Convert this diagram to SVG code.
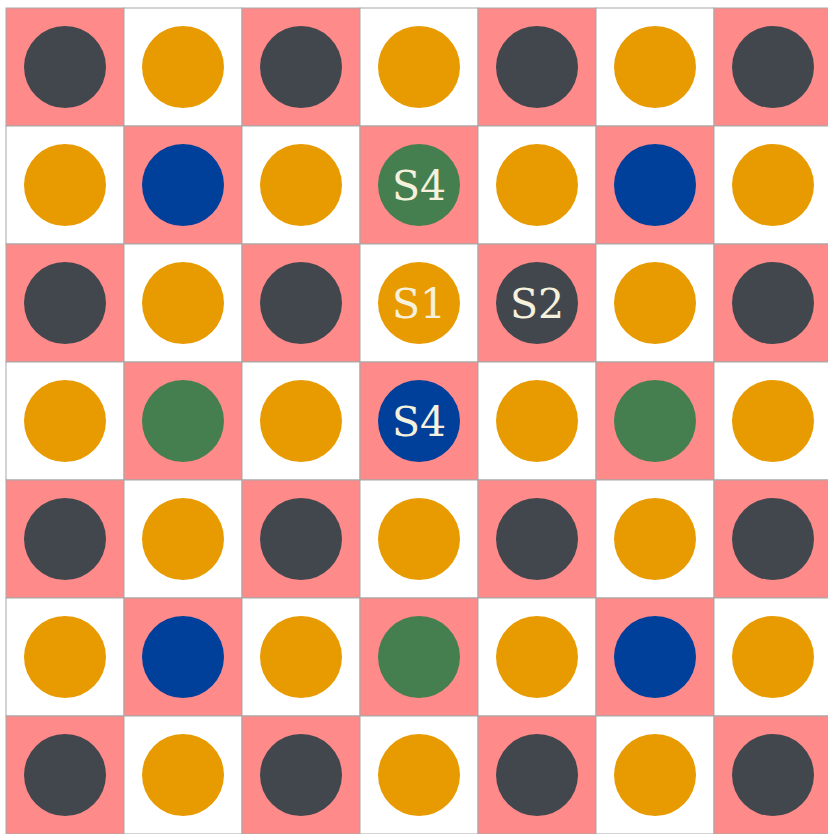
<svg xmlns="http://www.w3.org/2000/svg" width="828" height="834" viewBox="0 0 828 834">
<style>
.p{fill:#FF8A8A;stroke:#A8A8A8;stroke-width:1}
.w{fill:#FFFFFF;stroke:#A8A8A8;stroke-width:1}
.d{fill:#42474E}
.o{fill:#E89B00}
.b{fill:#003F9A}
.g{fill:#457F4F}
.t{font-family:"DejaVu Serif","Liberation Serif",serif;font-size:41px;fill:#F6F1DC;text-anchor:middle}
</style>
<rect width="828" height="834" fill="#FFFFFF"/>
<g id="grid">
<g id="r0">
<rect class="p" x="6" y="8" width="118" height="118"/><rect class="w" x="124" y="8" width="118" height="118"/><rect class="p" x="242" y="8" width="118" height="118"/><rect class="w" x="360" y="8" width="118" height="118"/><rect class="p" x="478" y="8" width="118" height="118"/><rect class="w" x="596" y="8" width="118" height="118"/><rect class="p" x="714" y="8" width="118" height="118"/>
</g>
<g id="r1">
<rect class="w" x="6" y="126" width="118" height="118"/><rect class="p" x="124" y="126" width="118" height="118"/><rect class="w" x="242" y="126" width="118" height="118"/><rect class="p" x="360" y="126" width="118" height="118"/><rect class="w" x="478" y="126" width="118" height="118"/><rect class="p" x="596" y="126" width="118" height="118"/><rect class="w" x="714" y="126" width="118" height="118"/>
</g>
<g id="r2">
<rect class="p" x="6" y="244" width="118" height="118"/><rect class="w" x="124" y="244" width="118" height="118"/><rect class="p" x="242" y="244" width="118" height="118"/><rect class="w" x="360" y="244" width="118" height="118"/><rect class="p" x="478" y="244" width="118" height="118"/><rect class="w" x="596" y="244" width="118" height="118"/><rect class="p" x="714" y="244" width="118" height="118"/>
</g>
<g id="r3">
<rect class="w" x="6" y="362" width="118" height="118"/><rect class="p" x="124" y="362" width="118" height="118"/><rect class="w" x="242" y="362" width="118" height="118"/><rect class="p" x="360" y="362" width="118" height="118"/><rect class="w" x="478" y="362" width="118" height="118"/><rect class="p" x="596" y="362" width="118" height="118"/><rect class="w" x="714" y="362" width="118" height="118"/>
</g>
<g id="r4">
<rect class="p" x="6" y="480" width="118" height="118"/><rect class="w" x="124" y="480" width="118" height="118"/><rect class="p" x="242" y="480" width="118" height="118"/><rect class="w" x="360" y="480" width="118" height="118"/><rect class="p" x="478" y="480" width="118" height="118"/><rect class="w" x="596" y="480" width="118" height="118"/><rect class="p" x="714" y="480" width="118" height="118"/>
</g>
<g id="r5">
<rect class="w" x="6" y="598" width="118" height="118"/><rect class="p" x="124" y="598" width="118" height="118"/><rect class="w" x="242" y="598" width="118" height="118"/><rect class="p" x="360" y="598" width="118" height="118"/><rect class="w" x="478" y="598" width="118" height="118"/><rect class="p" x="596" y="598" width="118" height="118"/><rect class="w" x="714" y="598" width="118" height="118"/>
</g>
<g id="r6">
<rect class="p" x="6" y="716" width="118" height="118"/><rect class="w" x="124" y="716" width="118" height="118"/><rect class="p" x="242" y="716" width="118" height="118"/><rect class="w" x="360" y="716" width="118" height="118"/><rect class="p" x="478" y="716" width="118" height="118"/><rect class="w" x="596" y="716" width="118" height="118"/><rect class="p" x="714" y="716" width="118" height="118"/>
</g>
</g>
<g id="connectors"></g>
<g id="n00"><circle class="d" cx="65" cy="67" r="41"/></g>
<g id="n01"><circle class="o" cx="183" cy="67" r="41"/></g>
<g id="n02"><circle class="d" cx="301" cy="67" r="41"/></g>
<g id="n03"><circle class="o" cx="419" cy="67" r="41"/></g>
<g id="n04"><circle class="d" cx="537" cy="67" r="41"/></g>
<g id="n05"><circle class="o" cx="655" cy="67" r="41"/></g>
<g id="n06"><circle class="d" cx="773" cy="67" r="41"/></g>
<g id="n10"><circle class="o" cx="65" cy="185" r="41"/></g>
<g id="n11"><circle class="b" cx="183" cy="185" r="41"/></g>
<g id="n12"><circle class="o" cx="301" cy="185" r="41"/></g>
<g id="n13"><circle class="g" cx="419" cy="185" r="41"/><text class="t" x="419" y="200">S4</text></g>
<g id="n14"><circle class="o" cx="537" cy="185" r="41"/></g>
<g id="n15"><circle class="b" cx="655" cy="185" r="41"/></g>
<g id="n16"><circle class="o" cx="773" cy="185" r="41"/></g>
<g id="n20"><circle class="d" cx="65" cy="303" r="41"/></g>
<g id="n21"><circle class="o" cx="183" cy="303" r="41"/></g>
<g id="n22"><circle class="d" cx="301" cy="303" r="41"/></g>
<g id="n23"><circle class="o" cx="419" cy="303" r="41"/><text class="t" x="419" y="318">S1</text></g>
<g id="n24"><circle class="d" cx="537" cy="303" r="41"/><text class="t" x="537" y="318">S2</text></g>
<g id="n25"><circle class="o" cx="655" cy="303" r="41"/></g>
<g id="n26"><circle class="d" cx="773" cy="303" r="41"/></g>
<g id="n30"><circle class="o" cx="65" cy="421" r="41"/></g>
<g id="n31"><circle class="g" cx="183" cy="421" r="41"/></g>
<g id="n32"><circle class="o" cx="301" cy="421" r="41"/></g>
<g id="n33"><circle class="b" cx="419" cy="421" r="41"/><text class="t" x="419" y="436">S4</text></g>
<g id="n34"><circle class="o" cx="537" cy="421" r="41"/></g>
<g id="n35"><circle class="g" cx="655" cy="421" r="41"/></g>
<g id="n36"><circle class="o" cx="773" cy="421" r="41"/></g>
<g id="n40"><circle class="d" cx="65" cy="539" r="41"/></g>
<g id="n41"><circle class="o" cx="183" cy="539" r="41"/></g>
<g id="n42"><circle class="d" cx="301" cy="539" r="41"/></g>
<g id="n43"><circle class="o" cx="419" cy="539" r="41"/></g>
<g id="n44"><circle class="d" cx="537" cy="539" r="41"/></g>
<g id="n45"><circle class="o" cx="655" cy="539" r="41"/></g>
<g id="n46"><circle class="d" cx="773" cy="539" r="41"/></g>
<g id="n50"><circle class="o" cx="65" cy="657" r="41"/></g>
<g id="n51"><circle class="b" cx="183" cy="657" r="41"/></g>
<g id="n52"><circle class="o" cx="301" cy="657" r="41"/></g>
<g id="n53"><circle class="g" cx="419" cy="657" r="41"/></g>
<g id="n54"><circle class="o" cx="537" cy="657" r="41"/></g>
<g id="n55"><circle class="b" cx="655" cy="657" r="41"/></g>
<g id="n56"><circle class="o" cx="773" cy="657" r="41"/></g>
<g id="n60"><circle class="d" cx="65" cy="775" r="41"/></g>
<g id="n61"><circle class="o" cx="183" cy="775" r="41"/></g>
<g id="n62"><circle class="d" cx="301" cy="775" r="41"/></g>
<g id="n63"><circle class="o" cx="419" cy="775" r="41"/></g>
<g id="n64"><circle class="d" cx="537" cy="775" r="41"/></g>
<g id="n65"><circle class="o" cx="655" cy="775" r="41"/></g>
<g id="n66"><circle class="d" cx="773" cy="775" r="41"/></g>
</svg>
